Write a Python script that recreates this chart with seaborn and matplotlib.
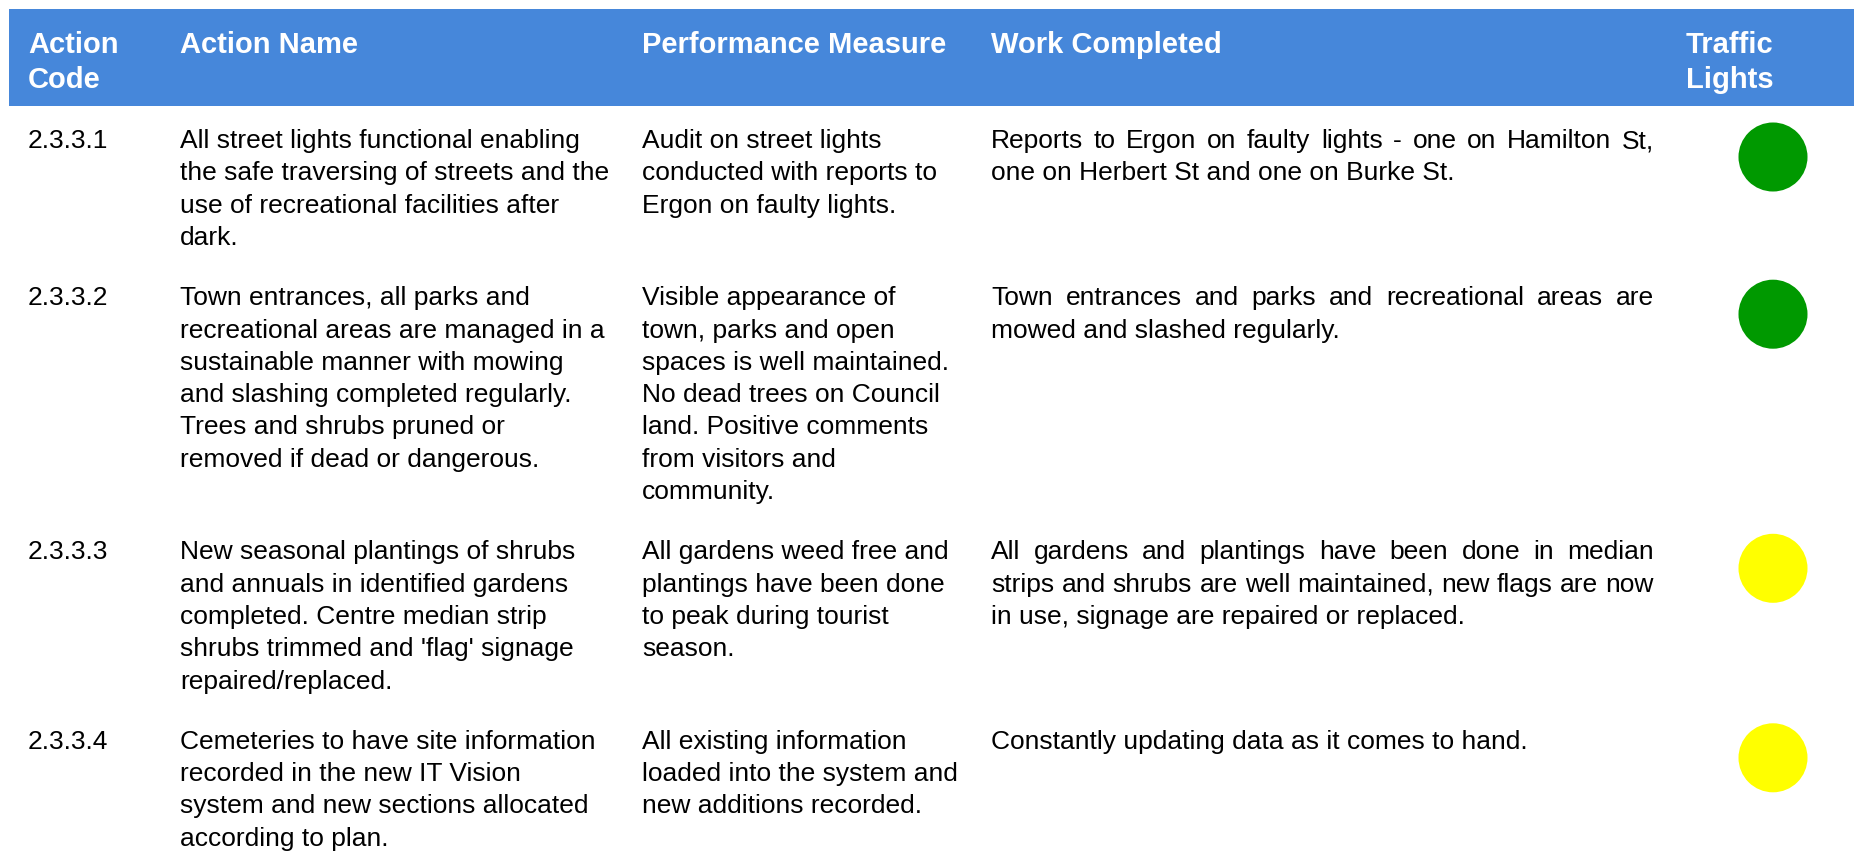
import numpy as np
import pandas as pd
import matplotlib
matplotlib.use('Agg')
import matplotlib.pyplot as plt
import seaborn as sns
from matplotlib.font_manager import FontProperties

# table content
headers = ['Action\nCode', 'Action Name', 'Performance Measure', 'Work Completed', 'Traffic\nLights']

action_codes = ['2.3.3.1', '2.3.3.2', '2.3.3.3', '2.3.3.4']

action_names = [
    'All street lights functional enabling\nthe safe traversing of streets and the\nuse of recreational facilities after\ndark.',
    'Town entrances, all parks and\nrecreational areas are managed in a\nsustainable manner with mowing\nand slashing completed regularly.\nTrees and shrubs pruned or\nremoved if dead or dangerous.',
    "New seasonal plantings of shrubs\nand annuals in identified gardens\ncompleted. Centre median strip\nshrubs trimmed and 'flag' signage\nrepaired/replaced.",
    'Cemeteries to have site information\nrecorded in the new IT Vision\nsystem and new sections allocated\naccording to plan.',
]

performance_measures = [
    'Audit on street lights\nconducted with reports to\nErgon on faulty lights.',
    'Visible appearance of\ntown, parks and open\nspaces is well maintained.\nNo dead trees on Council\nland. Positive comments\nfrom visitors and\ncommunity.',
    'All gardens weed free and\nplantings have been done\nto peak during tourist\nseason.',
    'All existing information\nloaded into the system and\nnew additions recorded.',
]

work_completed = [
    'Reports to Ergon on faulty lights - one on Hamilton St,\none on Herbert St and one on Burke St.',
    'Town entrances and parks and recreational areas are\nmowed and slashed regularly.',
    'All gardens and plantings have been done in median\nstrips and shrubs are well maintained, new flags are now\nin use, signage are repaired or replaced.',
    'Constantly updating data as it comes to hand.',
]

traffic_lights = ['green', 'green', 'yellow', 'yellow']

light_colors = {'green': '#009900', 'yellow': '#FFFF00'}
header_blue = '#4687DA'

# layout (pixels, figure is 1854 x 853 at dpi 100)
W, H = 1854, 853
col_x = [28, 180, 642, 991, 1686]
work_right = 1654
light_x = 1773
line_h = 32.3
row_gap = 28
first_base = 148
body_size = 19.0
head_size = 21.0

sns.set_theme(style='white')
plt.rcParams['font.family'] = ['Liberation Sans', 'DejaVu Sans']

fig = plt.figure(figsize=(W / 100, H / 100), dpi=100)
ax = fig.add_axes([0, 0, 1, 1])
ax.set_xlim(0, W)
ax.set_ylim(H, 0)
ax.axis('off')

# header band
ax.add_patch(plt.Rectangle((9, 10), W - 9, 97, facecolor=header_blue, edgecolor='none', zorder=0))
head_base = [53, 88]
for x, h in zip(col_x, headers):
    for i, line in enumerate(h.split('\n')):
        ax.text(x, head_base[i], line, color='white', fontsize=head_size, fontweight='bold',
                va='baseline', ha='left')

renderer = fig.canvas.get_renderer()
body_font = FontProperties(family=['Liberation Sans', 'DejaVu Sans'], size=body_size)


def text_width(s):
    w, _, _ = renderer.get_text_width_height_descent(s, body_font, ismath=False)
    return w


def draw_lines(x, base, text):
    for i, line in enumerate(text.split('\n')):
        ax.text(x, base + i * line_h, line, fontproperties=body_font, color='black', va='baseline')


def draw_justified(x, right, base, text):
    # spread words so every line but the last fills the column
    lines = text.split('\n')
    for i, line in enumerate(lines):
        y = base + i * line_h
        words = line.split(' ')
        if i == len(lines) - 1 or len(words) < 2:
            ax.text(x, y, line, fontproperties=body_font, color='black', va='baseline')
            continue
        widths = [text_width(w) for w in words]
        gap = (right - x - sum(widths)) / (len(words) - 1)
        cx = x
        for w, ww in zip(words, widths):
            ax.text(cx, y, w, fontproperties=body_font, color='black', va='baseline')
            cx += ww + gap


bases = []
base = first_base
for r in range(len(action_codes)):
    bases.append(base)
    draw_lines(col_x[0], base, action_codes[r])
    draw_lines(col_x[1], base, action_names[r])
    draw_lines(col_x[2], base, performance_measures[r])
    draw_justified(col_x[3], work_right, base, work_completed[r])
    n_lines = max(t.count('\n') + 1 for t in
                  [action_names[r], performance_measures[r], work_completed[r]])
    base += n_lines * line_h + row_gap

lights = pd.DataFrame({
    'x': [light_x] * len(traffic_lights),
    'y': [b + 10 for b in bases],
    'status': traffic_lights,
})
sns.scatterplot(data=lights, x='x', y='y', hue='status', palette=light_colors,
                s=2470, linewidth=0, legend=False, ax=ax, zorder=3)
ax.set_xlim(0, W)
ax.set_ylim(H, 0)
ax.axis('off')

fig.savefig('out.png', dpi=100)
